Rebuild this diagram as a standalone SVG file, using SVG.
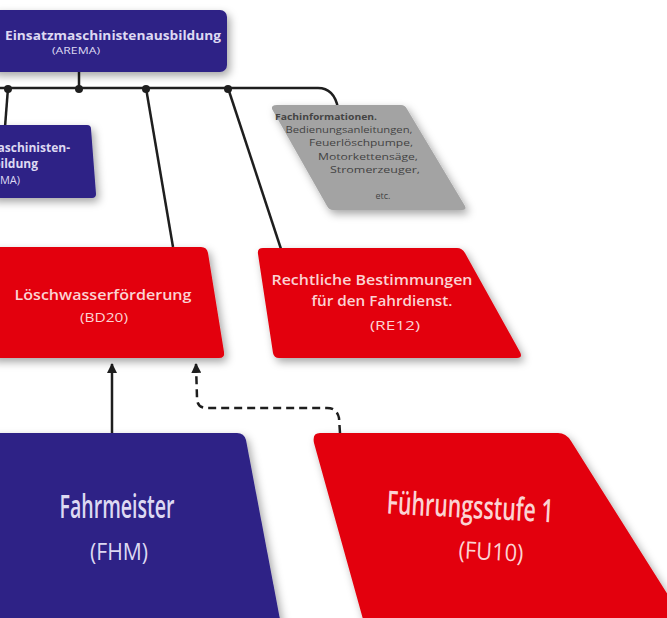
<svg xmlns="http://www.w3.org/2000/svg" width="667" height="618" viewBox="0 0 667 618">
<style>
.navy{fill:#2d2186}
.red{fill:#e3000f}
.gray{fill:#a3a3a3}
.tn{font-family:"Open Sans","Liberation Sans",sans-serif;fill:#ddd9f2;text-anchor:middle}
.tr{font-family:"Open Sans","Liberation Sans",sans-serif;fill:#fbd3d3;text-anchor:middle}
.tg{font-family:"Open Sans","Liberation Sans",sans-serif;fill:#444444;text-anchor:middle;font-size:9px}
.ln{fill:none;stroke:#1e1e1e;stroke-width:2.5}
</style>
<defs>
<filter id="sh" x="-20%" y="-20%" width="140%" height="150%">
<feDropShadow dx="3" dy="4" stdDeviation="4" flood-color="#000" flood-opacity="0.35"/>
</filter>
<marker id="ah" viewBox="0 0 10 10" refX="9" refY="5" markerWidth="4" markerHeight="4" orient="auto" markerUnits="strokeWidth">
<path d="M0,0 L10,5 L0,10 Z" fill="#1e1e1e"/>
</marker>
</defs>
<rect width="667" height="618" fill="#ffffff"/>

<g id="connectors">
<path class="ln" d="M79,72 V88"/>
<path class="ln" d="M-5,88 H318 Q334,88 338,108"/>
<path class="ln" d="M8,88 L5,127"/>
<path class="ln" d="M146,88 L173,247"/>
<path class="ln" d="M228,88 L281,249"/>
<circle cx="8" cy="89" r="4" fill="#1e1e1e"/>
<circle cx="79" cy="89" r="4" fill="#1e1e1e"/>
<circle cx="146" cy="89" r="4" fill="#1e1e1e"/>
<circle cx="228" cy="89" r="4" fill="#1e1e1e"/>
<path class="ln" d="M112,433 V364" marker-end="url(#ah)"/>
<path class="ln" stroke-width="3" stroke-dasharray="8,5" d="M340,433 L339,418 Q337,408 327,408 L207,408 Q197,408 197,398 L196,364" marker-end="url(#ah)"/>
</g>

<g id="node-arema">
<rect class="navy" x="-10" y="10" width="237" height="62" rx="7" filter="url(#sh)"/>
<text class="tn" x="113" y="40" font-size="11.5" font-weight="bold" textLength="216" lengthAdjust="spacingAndGlyphs">Einsatzmaschinistenausbildung</text>
<text class="tn" x="76" y="54" font-size="8.5" textLength="48" lengthAdjust="spacingAndGlyphs">(AREMA)</text>
</g>

<g id="node-ma">
<path class="navy" d="M-10,125 L87,125 Q91,125 91,129 L96,194 Q96,198 92,198 L-10,198 Z" filter="url(#sh)"/>
<text class="tn" x="70" y="152" font-size="12" font-weight="bold" style="text-anchor:end">Maschinisten-</text>
<text class="tn" x="38" y="168" font-size="12" font-weight="bold" style="text-anchor:end">ausbildung</text>
<text class="tn" x="20" y="184" font-size="11" style="text-anchor:end">(MA)</text>
</g>

<g id="node-fachinfo">
<path class="gray" d="M277,105 L401,105 Q405,105 407,109 L465,206 Q467,210 462,210 L333,210 Q329,210 327,206 L272,109 Q271,105 277,105 Z" filter="url(#sh)"/>
<text class="tg" x="326" y="120" font-weight="bold" textLength="102" lengthAdjust="spacingAndGlyphs">Fachinformationen.</text>
<text class="tg" x="349" y="133" textLength="127" lengthAdjust="spacingAndGlyphs">Bedienungsanleitungen,</text>
<text class="tg" x="361" y="146" textLength="104" lengthAdjust="spacingAndGlyphs">Feuerlöschpumpe,</text>
<text class="tg" x="368" y="160" textLength="100" lengthAdjust="spacingAndGlyphs">Motorkettensäge,</text>
<text class="tg" x="375" y="173" textLength="90" lengthAdjust="spacingAndGlyphs">Stromerzeuger,</text>
<text class="tg" x="383" y="199">etc.</text>
</g>

<g id="node-bd20">
<path class="red" d="M-10,247 L201,247 Q207,247 208,253 L224,352 Q225,358 219,358 L-10,358 Z" filter="url(#sh)"/>
<text class="tr" x="103" y="300" font-size="15" font-weight="600" textLength="177" lengthAdjust="spacingAndGlyphs">Löschwasserförderung</text>
<text class="tr" x="104" y="322" font-size="12" textLength="48" lengthAdjust="spacingAndGlyphs">(BD20)</text>
</g>

<g id="node-re12">
<path class="red" d="M263,248 L457,248 Q462,248 465,253 L520,352 Q523,358 517,358 L279,358 Q274,358 273,353 L258,254 Q257,248 263,248 Z" filter="url(#sh)"/>
<text class="tr" x="372" y="285" font-size="14" font-weight="600" textLength="201" lengthAdjust="spacingAndGlyphs">Rechtliche Bestimmungen</text>
<text class="tr" x="382" y="306" font-size="14" font-weight="600" textLength="141" lengthAdjust="spacingAndGlyphs">für den Fahrdienst.</text>
<text class="tr" x="395" y="330" font-size="12" textLength="50" lengthAdjust="spacingAndGlyphs">(RE12)</text>
</g>

<g id="node-fhm">
<path class="navy" d="M-10,433 L237,433 Q244,433 246,440 L282,630 L-10,630 Z" filter="url(#sh)"/>
<text class="tn" x="117" y="518" font-size="33" font-weight="600" textLength="115" lengthAdjust="spacingAndGlyphs">Fahrmeister</text>
<text class="tn" x="119" y="560" font-size="24" textLength="58" lengthAdjust="spacingAndGlyphs">(FHM)</text>
</g>

<g id="node-fu10">
<path class="red" d="M320,433 L558,433 Q566,433 571,441 L690,630 L366,630 L314,443 Q312,433 320,433 Z" filter="url(#sh)"/>
<text class="tr" x="470" y="518" font-size="32" font-weight="600" textLength="167" lengthAdjust="spacingAndGlyphs" transform="rotate(3 470 510)">Führungsstufe 1</text>
<text class="tr" x="491" y="560" font-size="24" textLength="65" lengthAdjust="spacingAndGlyphs" transform="rotate(3 491 552)">(FU10)</text>
</g>
</svg>
